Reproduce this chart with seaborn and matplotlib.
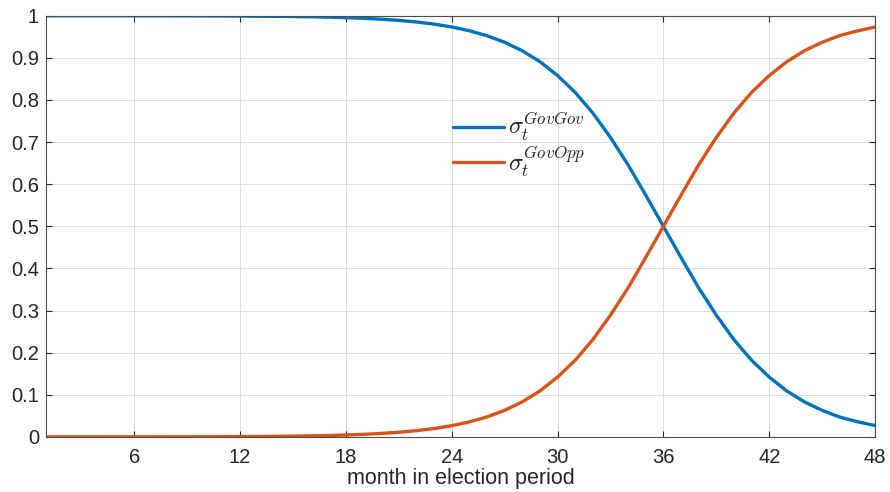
import numpy as np
import pandas as pd
import matplotlib
matplotlib.use("Agg")
import matplotlib.pyplot as plt
import seaborn as sns

months = list(range(1, 49))
# probability of government-opposition switch
gov_opp = [0.00003, 0.00004, 0.00005, 0.00007, 0.00009, 0.00012, 0.00017, 0.00022,
           0.0003, 0.00041, 0.00055, 0.00075, 0.001, 0.00136, 0.00183, 0.00247,
           0.00334, 0.0045, 0.0061, 0.0082, 0.011, 0.0148, 0.0198, 0.0266,
           0.0356, 0.0474, 0.063, 0.0832, 0.109, 0.142, 0.182, 0.231,
           0.289, 0.354, 0.426, 0.5, 0.574, 0.646, 0.711, 0.769,
           0.818, 0.858, 0.891, 0.917, 0.937, 0.953, 0.964, 0.973]
# blue curve
gov_gov = [0.99997, 0.99996, 0.99995, 0.99993, 0.99991, 0.99988, 0.99983, 0.99978,
           0.9997, 0.99959, 0.99945, 0.99925, 0.999, 0.99864, 0.99817, 0.99753,
           0.99666, 0.9955, 0.9939, 0.9918, 0.989, 0.9852, 0.9802, 0.9734,
           0.9644, 0.9526, 0.937, 0.9168, 0.891, 0.858, 0.818, 0.769,
           0.711, 0.646, 0.574, 0.5, 0.426, 0.354, 0.289, 0.231,
           0.182, 0.142, 0.109, 0.083, 0.063, 0.047, 0.036, 0.027]

labels = [r"$\sigma_t^{GovGov}$", r"$\sigma_t^{GovOpp}$"]
colors = ["#0072BD", "#D95319"]

df = pd.DataFrame({"month": months * 2,
                   "sigma": gov_gov + gov_opp,
                   "series": [labels[0]] * 48 + [labels[1]] * 48})

sns.set_style("whitegrid")
plt.rcParams["font.family"] = ["Liberation Sans", "DejaVu Sans"]
plt.rcParams["mathtext.fontset"] = "cm"

fig = plt.figure(figsize=(8.9, 4.92), dpi=100)
ax = fig.add_axes([0.0517, 0.112, 0.9315, 0.856])
sns.lineplot(data=df, x="month", y="sigma", hue="series", palette=colors,
             linewidth=2.4, ax=ax, legend=True)

ax.set_xlim(1, 48)
ax.set_ylim(0, 1)
ax.set_xticks([6, 12, 18, 24, 30, 36, 42, 48])
ax.set_yticks(np.arange(0, 1.01, 0.1))
ax.set_yticklabels(["0", "0.1", "0.2", "0.3", "0.4", "0.5", "0.6", "0.7", "0.8", "0.9", "1"])
ax.tick_params(labelsize=14.5, colors="#262626", direction="in", length=4, width=0.8,
               bottom=True, left=True, top=True, right=True,
               labelbottom=True, labelleft=True, labeltop=False, labelright=False)
ax.tick_params(axis="x", pad=8)
ax.tick_params(axis="y", pad=5)
ax.set_xlabel("month in election period", fontsize=15.5, color="#262626", labelpad=1)
ax.set_ylabel("")
ax.grid(True, color="#dcdcdc", linewidth=0.7)
ax.set_facecolor("white")
for sp in ax.spines.values():
    sp.set_color("#4d4d4d")
    sp.set_linewidth(0.8)
    sp.set_visible(True)

leg = ax.legend(loc="upper left", bbox_to_anchor=(0.464, 0.825), frameon=False,
                fontsize=17.5, handlelength=2.1, handletextpad=0.2, labelspacing=0.05,
                title=None)
for line in leg.get_lines():
    line.set_linewidth(2.4)

fig.savefig("out.png", dpi=100, facecolor="white")
